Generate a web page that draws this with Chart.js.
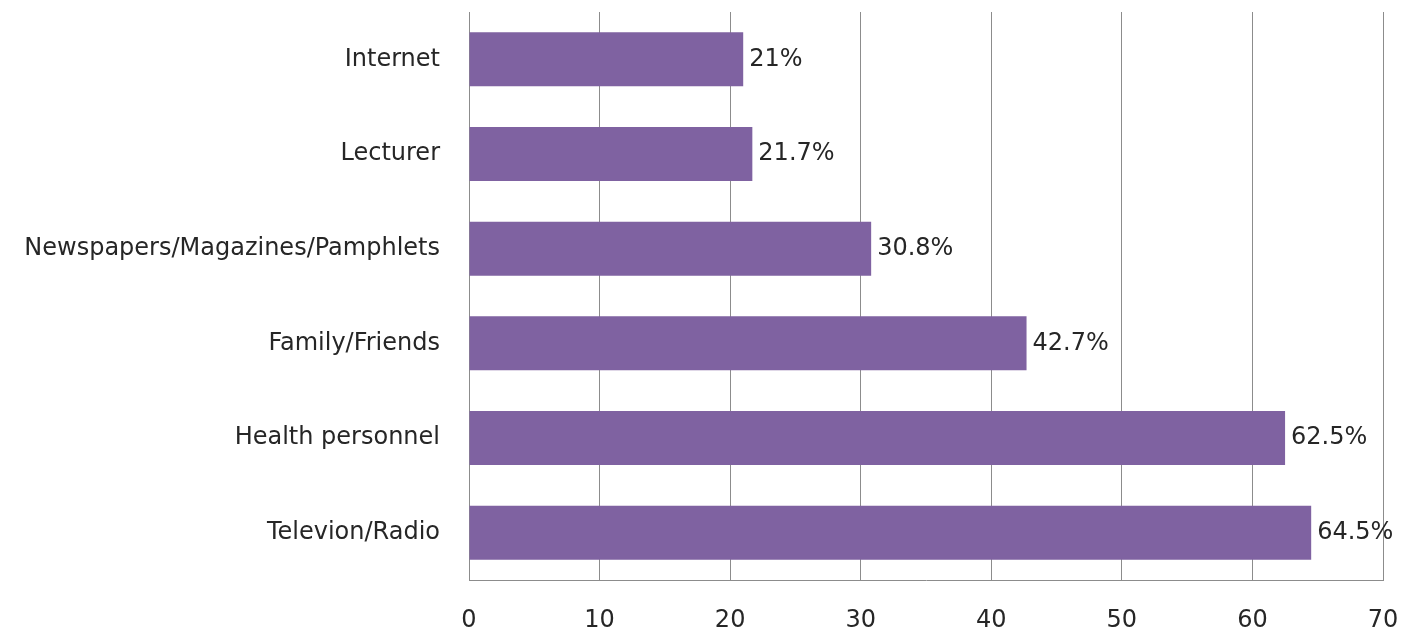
<!DOCTYPE html>
<html lang="en">
<head>
    <meta charset="UTF-8">
    <title>Sources of information</title>
    <script src="https://cdn.jsdelivr.net/npm/chart.js"></script>
    <style>
        body { margin: 0; padding: 0; background: #fff; }
        #wrap { width: 1419px; height: 636px; }
    </style>
</head>
<body>
    <div id="wrap"><canvas id="sourceChart" width="1419" height="636"></canvas></div>
    <script>
        // data
        const categories = ['Internet', 'Lecturer', 'Newspapers/Magazines/Pamphlets', 'Family/Friends', 'Health personnel', 'Televion/Radio'];
        const percents = [21, 21.7, 30.8, 42.7, 62.5, 64.5];
        const valueLabels = ['21%', '21.7%', '30.8%', '42.7%', '62.5%', '64.5%'];
        const xTicks = [0, 10, 20, 30, 40, 50, 60, 70];

        const FONT = '"DejaVu Sans", sans-serif';
        const FSIZE = 24;

        // writes the percentage just past the end of every bar
        const barLabels = {
            id: 'barLabels',
            afterDatasetsDraw(chart) {
                const c = chart.ctx;
                const meta = chart.getDatasetMeta(0);
                c.save();
                c.font = FSIZE + 'px ' + FONT;
                c.fillStyle = '#262626';
                c.textAlign = 'left';
                c.textBaseline = 'middle';
                meta.data.forEach((bar, i) => {
                    c.fillText(valueLabels[i], bar.x + 6, bar.y);
                });
                c.restore();
            }
        };

        new Chart(document.getElementById('sourceChart'), {
            type: 'bar',
            data: {
                labels: categories,
                datasets: [{
                    data: percents,
                    backgroundColor: '#7F62A1',
                    borderWidth: 0,
                    barPercentage: 0.57,
                    categoryPercentage: 1
                }]
            },
            options: {
                indexAxis: 'y',
                responsive: false,
                animation: false,
                layout: { padding: { top: 12, right: 36, left: 0, bottom: 0 } },
                plugins: {
                    legend: { display: false },
                    tooltip: { enabled: false }
                },
                scales: {
                    x: {
                        min: 0,
                        max: 70,
                        afterBuildTicks(axis) { axis.ticks = xTicks.map(v => ({ value: v })); },
                        afterFit(axis) { axis.height = 56; axis.paddingLeft = 0; axis.paddingRight = 0; },
                        grid: { color: '#8c8c8c', lineWidth: 1, drawTicks: false },
                        border: { color: '#8c8c8c' },
                        ticks: {
                            padding: 26,
                            color: '#262626',
                            font: { family: FONT, size: FSIZE }
                        }
                    },
                    y: {
                        afterFit(axis) { axis.width = 469; axis.paddingTop = 0; axis.paddingBottom = 0; },
                        grid: { display: false, drawTicks: false },
                        border: { color: '#8c8c8c' },
                        ticks: {
                            padding: 29,
                            color: '#262626',
                            font: { family: FONT, size: FSIZE }
                        }
                    }
                }
            },
            plugins: [barLabels]
        });
    </script>
</body>
</html>
